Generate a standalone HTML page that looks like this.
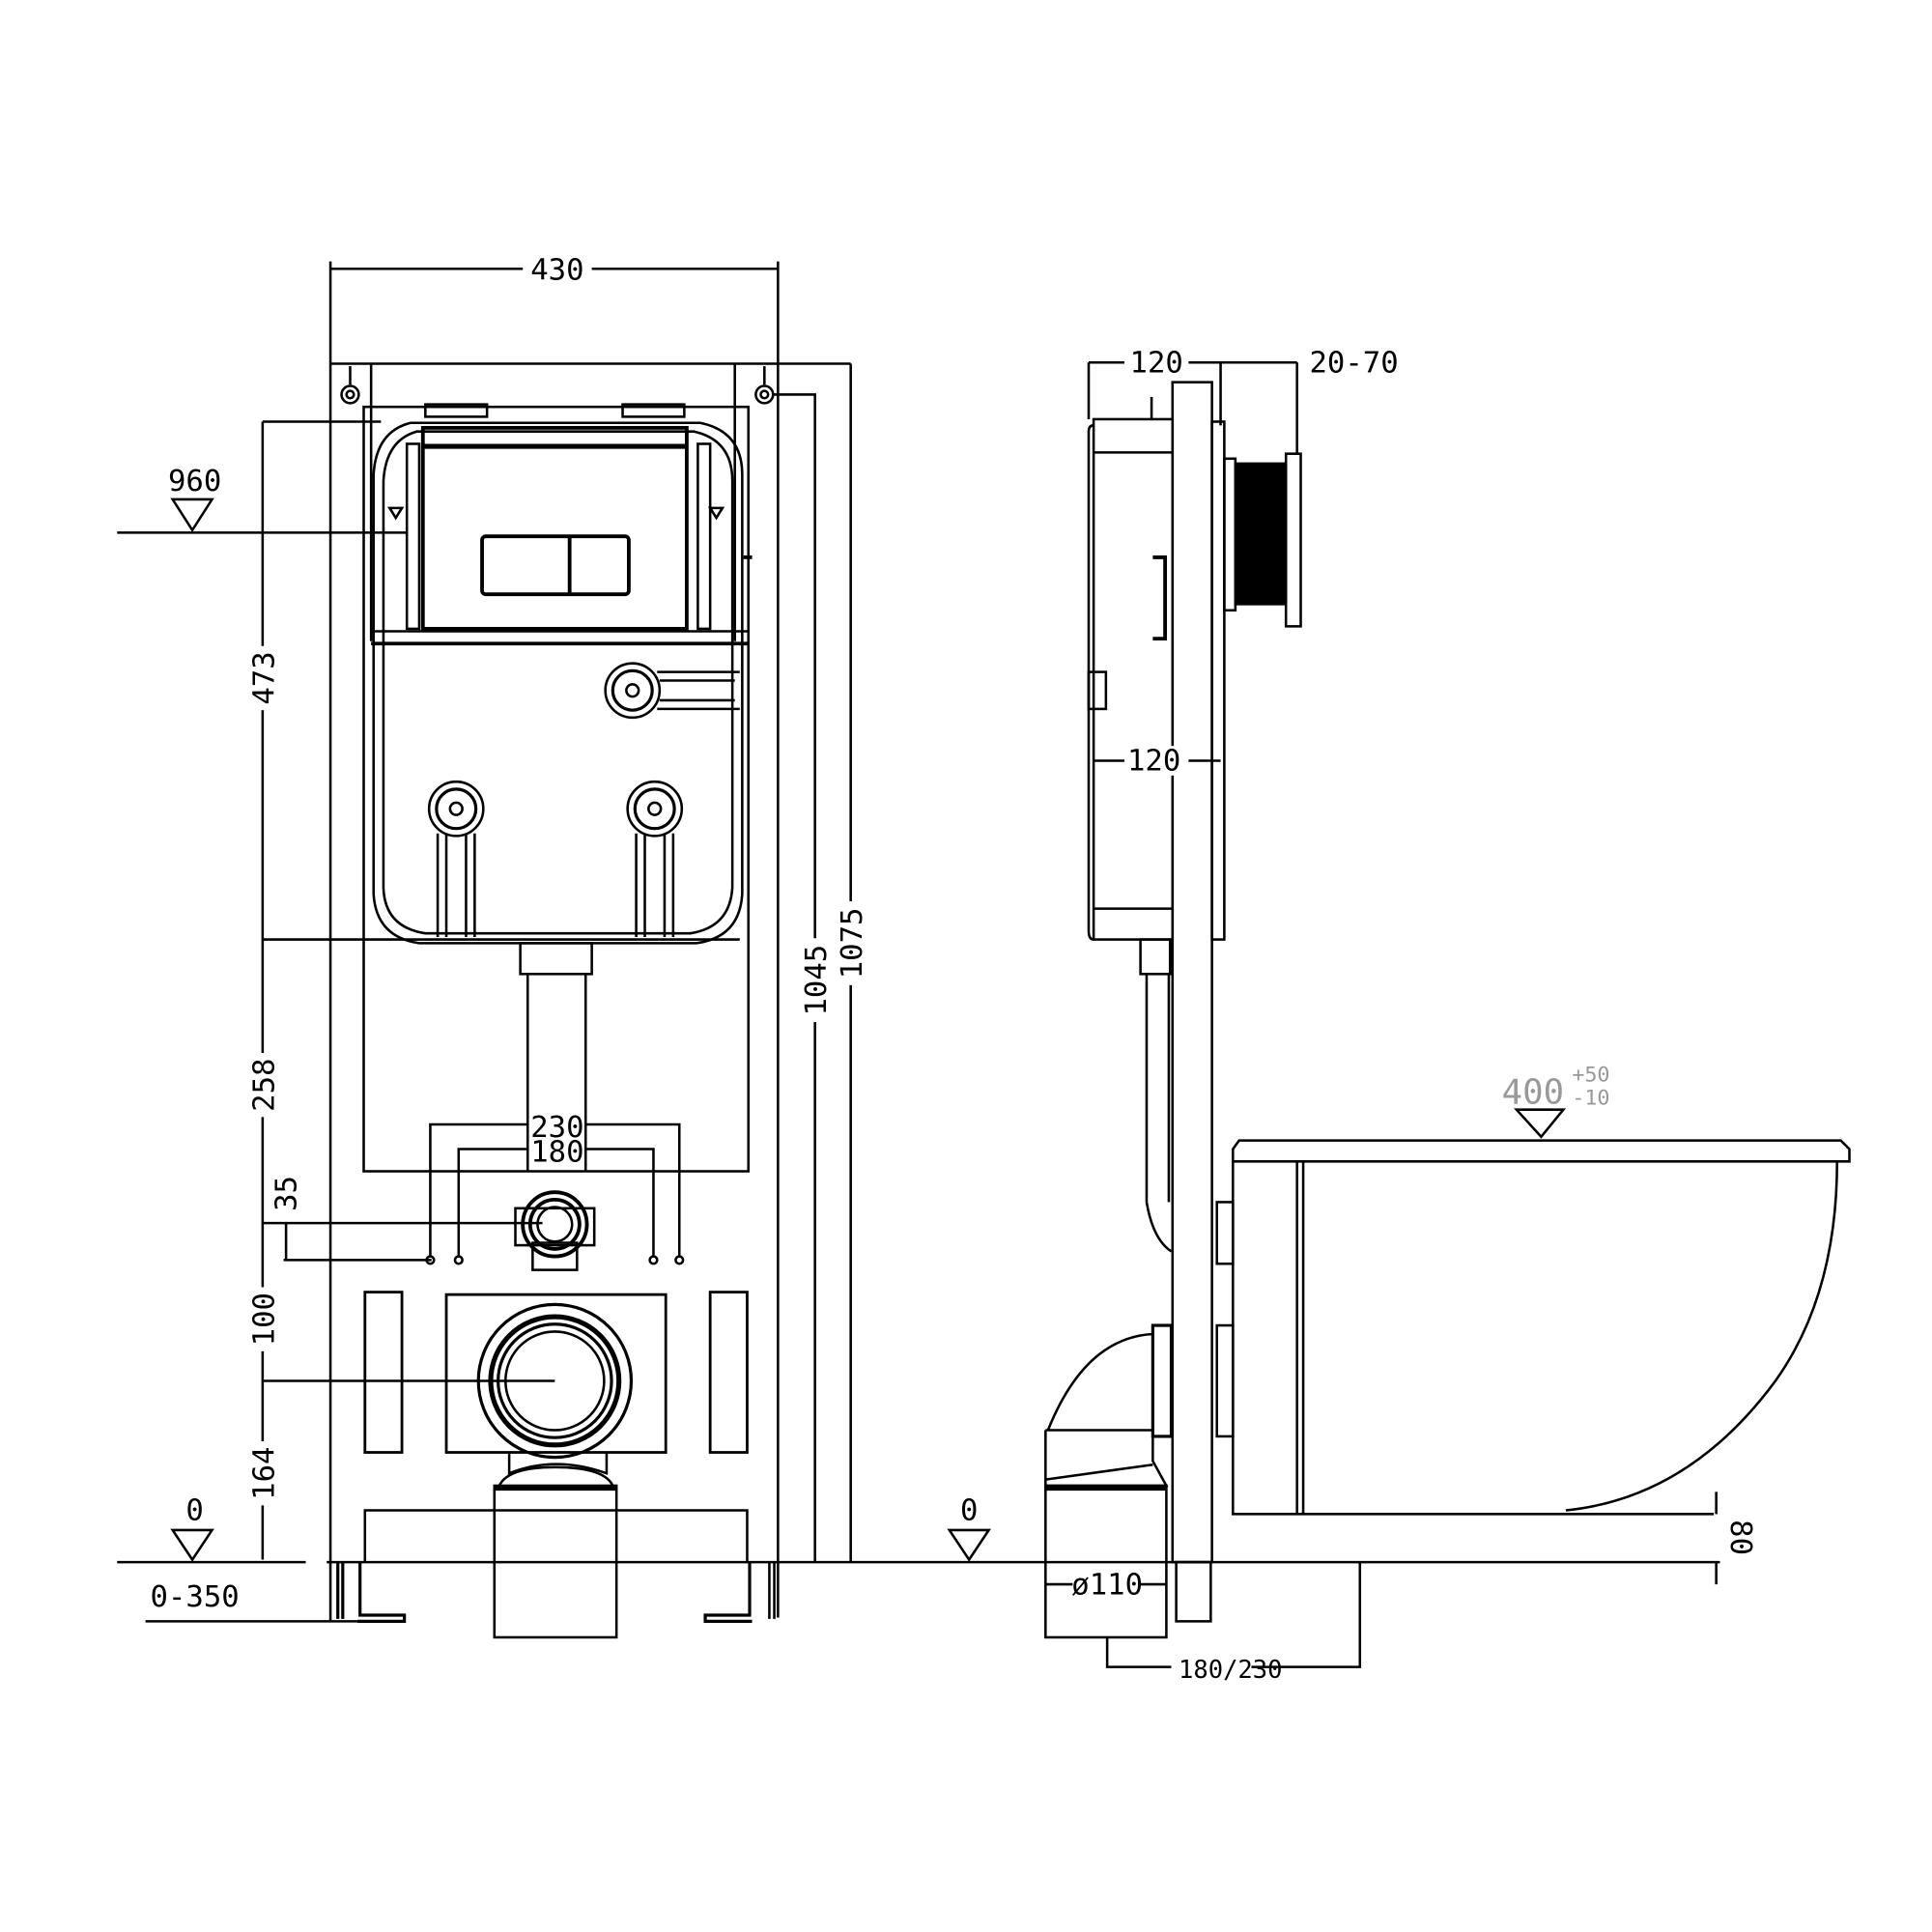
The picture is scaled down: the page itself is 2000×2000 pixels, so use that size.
<!DOCTYPE html>
<html><head><meta charset="utf-8"><style>
html,body{margin:0;padding:0;background:#fff;width:2000px;height:2000px;overflow:hidden}
svg{display:block}
text{font-family:"DejaVu Sans Mono","Liberation Mono",monospace;fill:#000}
</style></head><body>
<svg width="2000" height="2000" viewBox="0 0 1567 1567" xmlns="http://www.w3.org/2000/svg">
<g fill="none" stroke="#000" stroke-width="2">
<line x1="268" y1="218" x2="631" y2="218"/>
<line x1="268" y1="212" x2="268" y2="1315"/>
<line x1="631" y1="212" x2="631" y2="1312"/>
<line x1="268" y1="295" x2="690" y2="295"/>
<line x1="301" y1="295" x2="301" y2="520"/>
<line x1="596" y1="295" x2="596" y2="520"/>
<line x1="284" y1="297" x2="284" y2="312"/>
<line x1="620" y1="297" x2="620" y2="312"/>
<circle cx="284" cy="320" r="7"/><circle cx="284" cy="320" r="3"/>
<circle cx="620" cy="320" r="7"/><circle cx="620" cy="320" r="3"/>
<rect x="295" y="330" width="312" height="620"/>
<rect x="345" y="328" width="50" height="10"/>
<rect x="505" y="328" width="50" height="10"/>
<path d="M333 343 H568 Q602 350 602 385 V725 Q600 760 565 765 H340 Q305 760 303 725 V385 Q305 350 333 343Z"/>
<path d="M338 350 H563 Q594 357 594 390 V720 Q592 752 560 757 H345 Q312 752 311 720 V390 Q313 357 338 350Z"/>
<rect x="343" y="347" width="214" height="163" stroke-width="3"/>
<line x1="343" y1="362" x2="557" y2="362" stroke-width="4"/>
<rect x="391" y="435" width="119" height="47" rx="3" stroke-width="3"/>
<line x1="462" y1="435" x2="462" y2="482" stroke-width="3"/>
<rect x="330" y="360" width="10" height="150"/>
<rect x="566" y="360" width="10" height="150"/>
<path d="M316 412 h10 l-5 8z M576 412 h10 l-5 8z" stroke-width="2"/>
<line x1="301" y1="512" x2="607" y2="512"/>
<line x1="301" y1="522" x2="607" y2="522" stroke-width="3"/>
<line x1="603" y1="452" x2="610" y2="452" stroke-width="3"/>
<circle cx="513" cy="560" r="22"/><circle cx="513" cy="560" r="16" stroke-width="2.5"/><circle cx="513" cy="560" r="5"/>
<path d="M533 545 H600 M533 575 H600 M535 552 H596 M535 568 H596"/>
<circle cx="370" cy="656" r="22"/><circle cx="370" cy="656" r="16" stroke-width="2.5"/><circle cx="370" cy="656" r="5"/>
<circle cx="531" cy="656" r="22"/><circle cx="531" cy="656" r="16" stroke-width="2.5"/><circle cx="531" cy="656" r="5"/>
<path d="M355 676 V760 M385 676 V760 M362 676 V760 M378 676 V760" />
<path d="M516 676 V760 M546 676 V760 M523 676 V760 M539 676 V760"/>
<rect x="422" y="765" width="58" height="25"/>
<path d="M428 790 V950 M475 790 V950"/>
<path d="M349 1020 V912 H428 M475 912 H551 V1020"/>
<path d="M372 1020 V932 H428 M475 932 H530 V1020"/>
<circle cx="349" cy="1022" r="3"/><circle cx="372" cy="1022" r="3"/><circle cx="530" cy="1022" r="3"/><circle cx="551" cy="1022" r="3"/>
<rect x="418" y="980" width="64" height="30"/>
<rect x="432" y="1008" width="36" height="22"/>
<circle cx="450" cy="993" r="26" stroke-width="3"/>
<circle cx="450" cy="993" r="20" stroke-width="3"/>
<circle cx="450" cy="993" r="14" stroke-width="2"/>
<rect x="296" y="1048" width="30" height="130" stroke-width="2.2"/>
<rect x="576" y="1048" width="30" height="130" stroke-width="2.2"/>
<rect x="362" y="1050" width="178" height="128" stroke-width="2.2"/>
<circle cx="450" cy="1120" r="62" stroke-width="2.5"/>
<circle cx="450" cy="1120" r="52" stroke-width="4"/>
<circle cx="450" cy="1120" r="46" stroke-width="2.5"/>
<circle cx="450" cy="1120" r="40" stroke-width="2"/>
<path d="M413 1178 V1195 Q450 1180 492 1195 V1178"/>
<path d="M405 1205 Q412 1190 450 1190 Q490 1190 497 1205"/>
<rect x="401" y="1205" width="99" height="123"/>
<line x1="401" y1="1207" x2="500" y2="1207" stroke-width="4"/>
<path d="M296 1267 V1225 H606 V1267"/>
<line x1="95" y1="1267" x2="248" y2="1267"/>
<line x1="265" y1="1267" x2="1395" y2="1267"/>
<path d="M274 1267 V1313 M278 1267 V1313" stroke-width="2.5"/>
<path d="M292 1267 V1310 H328 V1315 H290" stroke-width="2.5"/>
<path d="M624 1267 V1313 M628 1267 V1313" stroke-width="2"/>
<path d="M608 1267 V1310 H572 V1315 H610" stroke-width="2.5"/>
<line x1="118" y1="1315" x2="328" y2="1315"/>
<line x1="213" y1="342" x2="213" y2="1265"/>
<path d="M213 342 H309 M213 762 H600 M213 992 H440 M230 1022 H350 M213 1120 H450"/>
<line x1="232" y1="992" x2="232" y2="1022"/>
<line x1="95" y1="432" x2="330" y2="432"/>
<path d="M140 405 H172 L156 430Z"/>
<path d="M140 1241 H172 L156 1265Z"/>
<path d="M626 320 H661 V1267"/>
<path d="M690 295 V1267"/>
<path d="M883 294 H1052 M883 294 V340 M990 294 V345 M1052 294 V368"/>
<rect x="951" y="310" width="32" height="957"/>
<rect x="954" y="1267" width="28" height="48"/>
<line x1="934" y1="322" x2="934" y2="340"/>
<rect x="887" y="340" width="64" height="422"/>
<line x1="887" y1="367" x2="951" y2="367"/>
<line x1="887" y1="737" x2="951" y2="737"/>
<path d="M887 345 Q883 345 883 350 V755 Q883 762 887 762"/>
<rect x="983" y="342" width="10" height="420"/>
<rect x="883" y="545" width="14" height="30"/>
<path d="M935 452 H945 V518 H935" stroke-width="3"/>
<line x1="887" y1="617" x2="990" y2="617"/>
<rect x="993" y="372" width="9" height="123"/>
<rect x="1002" y="376" width="41" height="114" fill="#000"/>
<rect x="1043" y="368" width="12" height="140"/>
<rect x="925" y="762" width="24" height="28"/>
<path d="M930 790 V975 M948 790 V975"/>
<path d="M930 975 Q935 1005 950 1015"/>
<rect x="935" y="1075" width="15" height="90" stroke-width="2.5"/>
<path d="M935 1082 Q880 1085 850 1160 M935 1160 H848"/>
<path d="M848 1160 V1205 H946 L935 1185 V1165 M848 1200 L935 1188"/>
<rect x="848" y="1205" width="98" height="123"/>
<line x1="848" y1="1207" x2="946" y2="1207" stroke-width="4"/>
<path d="M848 1285 H870 M925 1285 H946"/>
<rect x="987" y="975" width="13" height="50"/>
<rect x="987" y="1075" width="13" height="90"/>
<path d="M898 1328 V1352 H950 M1015 1352 H1103 V1267"/>
<path d="M1005 925 H1493 L1500 932 V942 H1000 V932Z" stroke-width="2"/>
<path d="M1000 942 V1228 H1390 M1052 942 V1228 M1057 942 V1228"/>
<path d="M1490 942 Q1490 1050 1440 1120 Q1370 1215 1270 1225"/>
<path d="M1392 1210 V1228 M1392 1267 V1285"/>
<path d="M1230 900 H1268 L1250 922Z"/>
<path d="M770 1241 H802 L786 1265Z"/>
</g>
<g font-size="24">
<rect x="424" y="205" width="56" height="26" fill="#fff"/>
<text x="452" y="227" text-anchor="middle">430</text>
<text x="158" y="398" text-anchor="middle">960</text>
<text x="158" y="1233" text-anchor="middle">0</text>
<text x="158" y="1303" text-anchor="middle">0-350</text>
<text x="786" y="1233" text-anchor="middle">0</text>
<rect x="430" y="900" width="44" height="42" fill="#fff"/>
<text x="452" y="922" text-anchor="middle">230</text>
<text x="452" y="942" text-anchor="middle">180</text>
<g transform="translate(222,550) rotate(-90)"><rect x="-26" y="-20" width="52" height="24" fill="#fff"/><text text-anchor="middle">473</text></g>
<g transform="translate(222,880) rotate(-90)"><rect x="-26" y="-20" width="52" height="24" fill="#fff"/><text text-anchor="middle">258</text></g>
<g transform="translate(240,968) rotate(-90)"><text text-anchor="middle">35</text></g>
<g transform="translate(222,1070) rotate(-90)"><rect x="-26" y="-20" width="52" height="24" fill="#fff"/><text text-anchor="middle">100</text></g>
<g transform="translate(222,1195) rotate(-90)"><rect x="-26" y="-20" width="52" height="24" fill="#fff"/><text text-anchor="middle">164</text></g>
<g transform="translate(670,795) rotate(-90)"><rect x="-34" y="-20" width="68" height="24" fill="#fff"/><text text-anchor="middle">1045</text></g>
<g transform="translate(699,765) rotate(-90)"><rect x="-34" y="-20" width="68" height="24" fill="#fff"/><text text-anchor="middle">1075</text></g>
<rect x="912" y="282" width="52" height="24" fill="#fff"/>
<text x="938" y="302" text-anchor="middle">120</text>
<text x="1062" y="302">20-70</text>
<rect x="912" y="605" width="52" height="24" fill="#fff"/>
<text x="936" y="625" text-anchor="middle">120</text>
<text x="898" y="1293" text-anchor="middle">ø110</text>
<text x="998" y="1361" text-anchor="middle" font-size="20">180/230</text>
<g transform="translate(1404,1247) rotate(90)"><rect x="-18" y="-20" width="36" height="24" fill="#fff"/><text text-anchor="middle">80</text></g>
<text x="1218" y="895" style="fill:#999" font-size="28">400</text>
<text x="1275" y="877" style="fill:#999" font-size="17">+50</text>
<text x="1275" y="896" style="fill:#999" font-size="17">-10</text>
</g>
</svg>
</body></html>
